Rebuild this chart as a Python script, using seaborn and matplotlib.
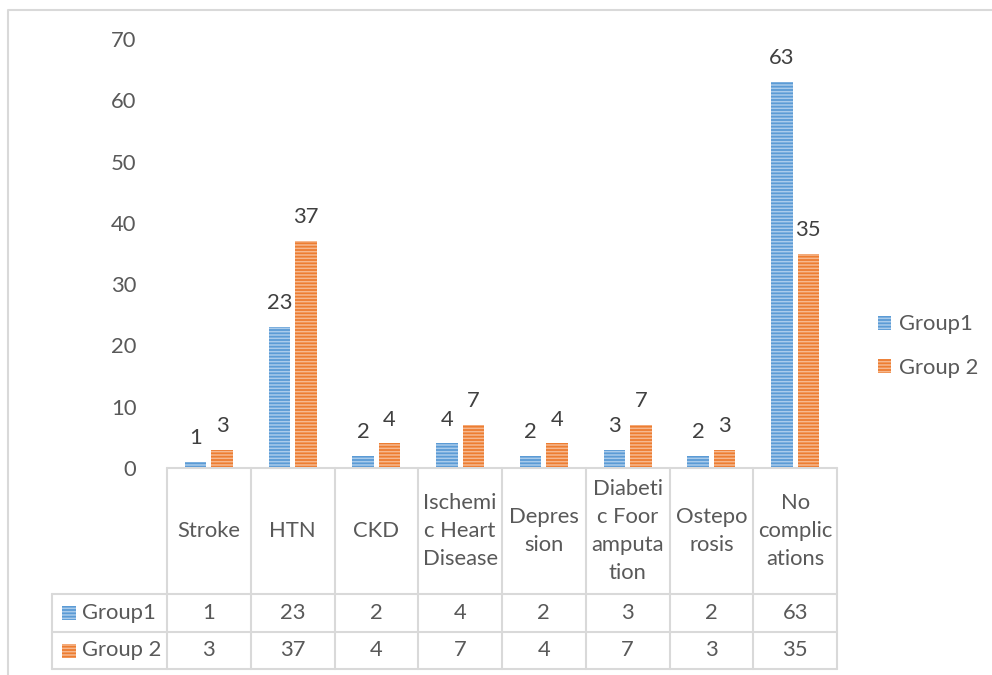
import matplotlib
matplotlib.use("Agg")
import matplotlib.pyplot as plt
import matplotlib.patches as mpatches
from matplotlib.lines import Line2D
from matplotlib.transforms import blended_transform_factory
import numpy as np
import pandas as pd
import seaborn as sns

# ---- data ----
categories = ["Stroke", "HTN", "CKD", "Ischemic Heart Disease", "Depression",
              "Diabetic Foor amputation", "Osteporosis", "No complications"]
header_labels = ["Stroke", "HTN", "CKD", "Ischemi\nc Heart\nDisease", "Depres\nsion",
                 "Diabeti\nc Foor\namputa\ntion", "Ostepo\nrosis", "No\ncomplic\nations"]
group1 = [1, 23, 2, 4, 2, 3, 2, 63]
group2 = [3, 37, 4, 7, 4, 7, 3, 35]
series_names = ["Group1", "Group 2"]
y_ticks = [0, 10, 20, 30, 40, 50, 60, 70]

colors = {"Group1": "#5B9BD5", "Group 2": "#ED7D31"}
stripe = {"Group1": "#A9CBEB", "Group 2": "#F6B88F"}
text_color = "#595959"
grid_color = "#D9D9D9"

df = pd.DataFrame({
    "category": categories * 2,
    "value": group1 + group2,
    "group": [series_names[0]] * len(categories) + [series_names[1]] * len(categories),
})

sns.set_theme(style="white")
plt.rcParams["font.family"] = ["Lato", "DejaVu Sans"]
plt.rcParams["hatch.linewidth"] = 1.1
FS = 15.8

W, H = 992, 675
fig = plt.figure(figsize=(W / 100, H / 100), dpi=100)
fig.patch.set_facecolor("white")


def fx(x):
    return x / W


def fy(y):
    return 1 - y / H


ax_left, ax_right, ax_top, ax_bottom = 167, 837, 39, 468
ax = fig.add_axes([fx(ax_left), fy(ax_bottom), fx(ax_right - ax_left),
                   (ax_bottom - ax_top) / H])

sns.barplot(data=df, x="category", y="value", hue="group", order=categories,
            hue_order=series_names, palette=colors, width=0.63, gap=0.19,
            saturation=1, legend=False, ax=ax, errorbar=None)

# striped fill on every bar
for container, name in zip(ax.containers, series_names):
    for bar in container:
        bar.set_edgecolor(stripe[name])
        bar.set_linewidth(0)
        bar.set_hatch("-----")
    ax.bar_label(container, fmt="%g", padding=10, fontsize=FS, color="#404040")

ax.set_xlim(-0.5, len(categories) - 0.5)
ax.set_ylim(0, 70)
ax.set_yticks(y_ticks)
ax.tick_params(axis="y", length=0, pad=22, labelsize=FS, labelcolor=text_color)
ax.set_xticks([])
ax.set_xlabel("")
ax.set_ylabel("")
for s in ax.spines.values():
    s.set_visible(False)
ax.set_facecolor("none")

# ---- data table under the chart ----
tr = blended_transform_factory(ax.transData, fig.transFigure)
head_bottom, row1_bottom, row2_bottom = 594, 632, 669
lw = 1.5
n = len(categories)

def hline(x0, x1, y, transform=fig.transFigure):
    fig.add_artist(Line2D([x0, x1], [fy(y), fy(y)], color=grid_color, lw=lw,
                          transform=transform))

def vline(x, y0, y1, transform=fig.transFigure):
    fig.add_artist(Line2D([x, x], [fy(y0), fy(y1)], color=grid_color, lw=lw,
                          transform=transform))

hline(-0.5, n - 0.5, ax_bottom, tr)
hline(fx(52), fx(ax_right), head_bottom)
hline(fx(52), fx(ax_right), row1_bottom)
hline(fx(52), fx(ax_right), row2_bottom)
vline(fx(52), head_bottom, row2_bottom)
for i in range(n + 1):
    vline(i - 0.5, ax_bottom, row2_bottom, tr)

for i, lab in enumerate(header_labels):
    fig.text(i, fy((ax_bottom + head_bottom) / 2), lab, transform=tr,
             ha="center", va="center", fontsize=FS, color=text_color,
             linespacing=1.5)
    fig.text(i, fy((head_bottom + row1_bottom) / 2), f"{group1[i]:g}", transform=tr,
             ha="center", va="center", fontsize=FS, color=text_color)
    fig.text(i, fy((row1_bottom + row2_bottom) / 2), f"{group2[i]:g}", transform=tr,
             ha="center", va="center", fontsize=FS, color=text_color)

for name, (y0, y1) in zip(series_names, [(head_bottom, row1_bottom), (row1_bottom, row2_bottom)]):
    yc = (y0 + y1) / 2
    fig.add_artist(mpatches.Rectangle((fx(62), fy(yc + 7)), fx(14), 14 / H,
                                      facecolor=colors[name], edgecolor=stripe[name],
                                      linewidth=0, hatch="-----",
                                      transform=fig.transFigure))
    fig.text(fx(82), fy(yc), name, ha="left", va="center", fontsize=FS,
             color=text_color)

# ---- legend ----
handles = [mpatches.Patch(facecolor=colors[nm], edgecolor=stripe[nm], linewidth=0,
                          hatch="-----", label=nm) for nm in series_names]
fig.legend(handles=handles, loc="center left", bbox_to_anchor=(fx(878), fy(346)),
           bbox_transform=fig.transFigure, frameon=False, fontsize=FS,
           labelcolor=text_color, handlelength=0.6, handleheight=0.6,
           handletextpad=0.35, labelspacing=1.05, borderpad=0, borderaxespad=0)

# chart frame
fig.add_artist(Line2D([fx(8), fx(8), 1], [0, fy(10), fy(10)], color=grid_color,
                      lw=1.5, transform=fig.transFigure))

fig.savefig("out.png", dpi=100, facecolor="white")
